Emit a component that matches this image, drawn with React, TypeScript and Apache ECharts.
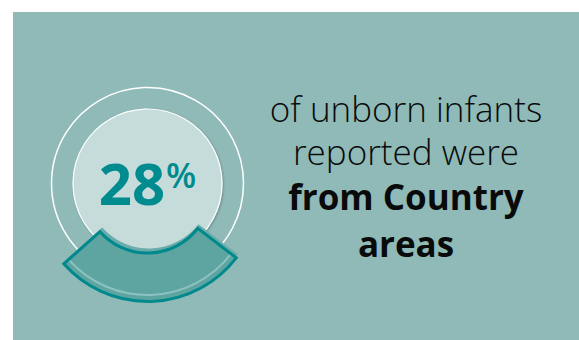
import React, { useEffect, useRef } from "react";
import * as echarts from "echarts";

const shareLabel = "28";
const shareUnit = "%";
const shareValues = [28, 72];
const textLines = ["of unborn infants", "reported were", "from Country", "areas"];
const boldLines = [false, false, true, true];

export default function App() {
  const ref = useRef<HTMLDivElement>(null);
  useEffect(() => {
    document.body.style.margin = "0";
    const chart = echarts.init(ref.current!, null, { renderer: "svg" });
    const cx = 147.5;
    const cy = 183.5;
    const pcy = 189.5;
    const start = -88 + (shareValues[0] / 100) * 180;
    const sliceData = (color: string, border?: string, bw = 0) => [
      {
        value: shareValues[0],
        itemStyle: { color, borderColor: border || "transparent", borderWidth: bw, borderJoin: "miter" },
      },
      { value: shareValues[1], itemStyle: { color: "transparent", borderWidth: 0 } },
    ];
    const pieBase = {
      type: "pie",
      silent: true,
      clockwise: true,
      startAngle: start,
      label: { show: false },
      labelLine: { show: false },
      emphasis: { disabled: true },
      animation: false,
    };
    const lines = textLines.map((t, i) => ({
      type: "text",
      z: 20,
      x: 406,
      y: [108, 151, 196, 243][i],
      style: {
        text: t,
        fill: "#0a0a0a",
        font: `${boldLines[i] ? "bold" : "300"} 35px "Open Sans", "Noto Sans", sans-serif`,
        textAlign: "center",
        textVerticalAlign: "middle",
      },
    }));
    chart.setOption({
      animation: false,
      graphic: [
        { type: "rect", z: 0, shape: { x: 13, y: 12, width: 566, height: 328 }, style: { fill: "#8fbab8" } },
        { type: "circle", z: 1, shape: { cx, cy, r: 96 }, style: { fill: "none", stroke: "#ffffff", lineWidth: 1.5 } },
        {
          type: "circle",
          z: 1,
          shape: { cx, cy, r: 74.5 },
          style: {
            fill: "#c6dcdb",
            stroke: "#ffffff",
            lineWidth: 1.2,
            shadowBlur: 2,
            shadowOffsetX: 1,
            shadowOffsetY: 1,
            shadowColor: "rgba(0,0,0,0.25)",
          },
        },
        {
          type: "text",
          z: 20,
          x: 132,
          y: 182,
          style: {
            text: shareLabel,
            fill: "#008b8f",
            font: 'bold 58px "Open Sans", sans-serif',
            textAlign: "center",
            textVerticalAlign: "middle",
          },
        },
        {
          type: "text",
          z: 20,
          x: 166,
          y: 174,
          style: {
            text: shareUnit,
            fill: "#008b8f",
            font: '600 35px "Open Sans", sans-serif',
            textAlign: "left",
            textVerticalAlign: "middle",
          },
        },
        ...lines,
      ],
      series: [
        { ...pieBase, z: 3, center: [cx + 1.5, pcy - 3.5], radius: [62.5, 112], data: sliceData("#6aacaa") },
        { ...pieBase, z: 4, center: [cx, pcy], radius: [63.5, 112], data: sliceData("#5ea5a2") },
        { ...pieBase, z: 5, center: [cx, pcy], radius: [104.5, 106.5], data: sliceData("#8cc2bf") },
        { ...pieBase, z: 6, center: [cx, pcy], radius: [63.5, 112], data: sliceData("transparent", "#00898d", 3) },
      ],
    });
    return () => chart.dispose();
  }, []);
  return <div ref={ref} style={{ position: "absolute", left: 0, top: 0, width: 579, height: 340 }} />;
}
